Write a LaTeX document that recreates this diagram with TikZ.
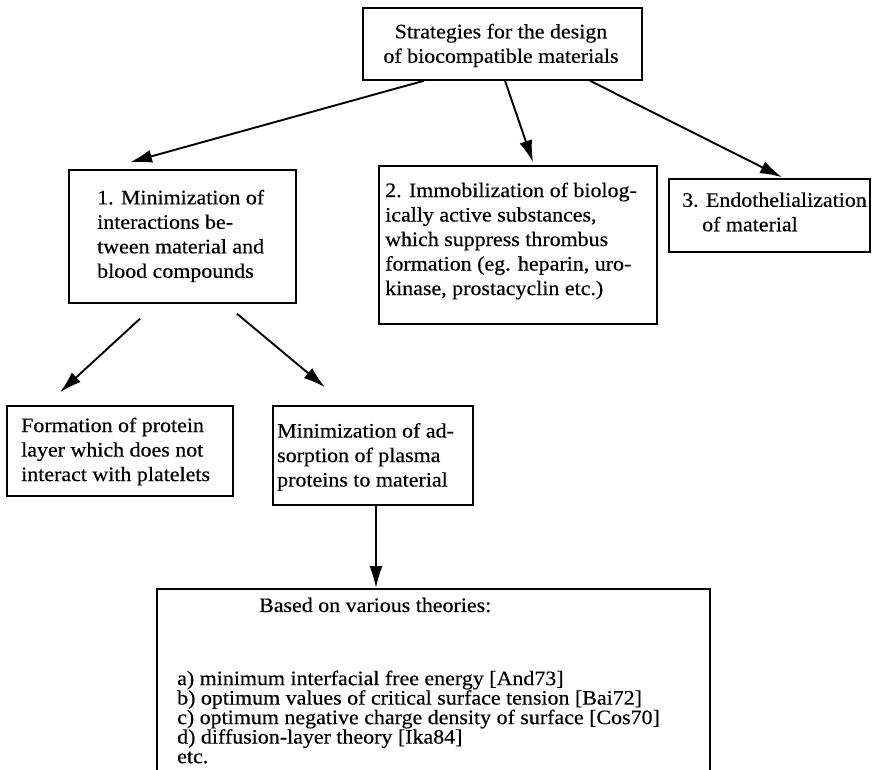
\documentclass[tikz,border=0pt]{standalone}
\usepackage{fontspec}
\setmainfont{Liberation Serif}[FakeStretch=1.07,FakeBold=0.4]
\usetikzlibrary{arrows.meta}
\tikzset{
  box/.style={draw, line width=1.5pt, inner sep=0pt},
  txt/.style={inner sep=0pt, align=left, font=\fontsize{20.5}{24.5}\selectfont},
  listtxt/.style={inner sep=0pt, align=left, font=\fontsize{20.5}{19.5}\selectfont},
  arr/.style={line width=1.9pt, -{Latex[length=22pt,width=13pt]}}
}
\begin{document}
\begin{tikzpicture}[x=1pt,y=-1pt]
\useasboundingbox (0,0) rectangle (872,769);
\clip (0,0) rectangle (872,769);
% boxes
\node[box, minimum width=279pt, minimum height=72pt] (top) at (502.5,44) {};
\node[box, minimum width=227pt, minimum height=133pt] (b1) at (182.5,236.5) {};
\node[box, minimum width=278pt, minimum height=158pt] (b2) at (518,245) {};
\node[box, minimum width=201pt, minimum height=73pt] (b3) at (769.5,215.5) {};
\node[box, minimum width=226pt, minimum height=90pt] (b4) at (120,451) {};
\node[box, minimum width=200pt, minimum height=99pt] (b5) at (373,455.5) {};
\node[box, minimum width=553pt, minimum height=240pt, anchor=north west] (bot) at (156,588) {};
% texts
\node[txt, align=center] (topt) at (501,45.5) {Strategies for the design\\of biocompatible materials};
\node[txt, anchor=west] (b1t) at (97,236) {1. Minimization of\\interactions be-\\tween material and\\blood compounds};
\node[txt, anchor=west] (b2t) at (385,241) {2. Immobilization of biolog-\\ically active substances,\\which suppress thrombus\\formation (eg. heparin, uro-\\kinase, prostacyclin etc.)};
\node[txt, anchor=west] (b3t) at (682,212) {3. Endothelialization\\\hspace*{20pt}of material};
\node[txt, anchor=west] (b4t) at (21,451.5) {Formation of protein\\layer which does not\\interact with platelets};
\node[txt, anchor=west] (b5t) at (277,457) {Minimization of ad-\\sorption of plasma\\proteins to material};
\node[listtxt, anchor=west] (bott) at (259,605) {Based on various theories:};
\node[listtxt, anchor=west] (botl) at (177,717) {a) minimum interfacial free energy [And73]\\b) optimum values of critical surface tension [Bai72]\\c) optimum negative charge density of surface [Cos70]\\d) diffusion-layer theory [Ika84]\\etc.};
% arrows
\draw[arr] ([xshift=-78.5pt]top.south) -- ([xshift=-52.5pt,yshift=7pt]b1.north);
\draw[arr] ([xshift=2.5pt]top.south) -- ([xshift=15pt,yshift=3pt]b2.north);
\draw[arr] ([xshift=87.5pt]top.south) -- ([xshift=12.5pt,yshift=1pt]b3.north);
\draw[arr] ([xshift=-42.5pt,yshift=-15pt]b1.south) -- ([xshift=-60pt,yshift=13pt]b4.north);
\draw[arr] ([xshift=54.5pt,yshift=-10pt]b1.south) -- ([xshift=-48pt,yshift=18pt]b5.north);
\draw[arr] ([xshift=3pt]b5.south) -- ([xshift=3pt]b5.south |- bot.north);
\end{tikzpicture}
\end{document}
